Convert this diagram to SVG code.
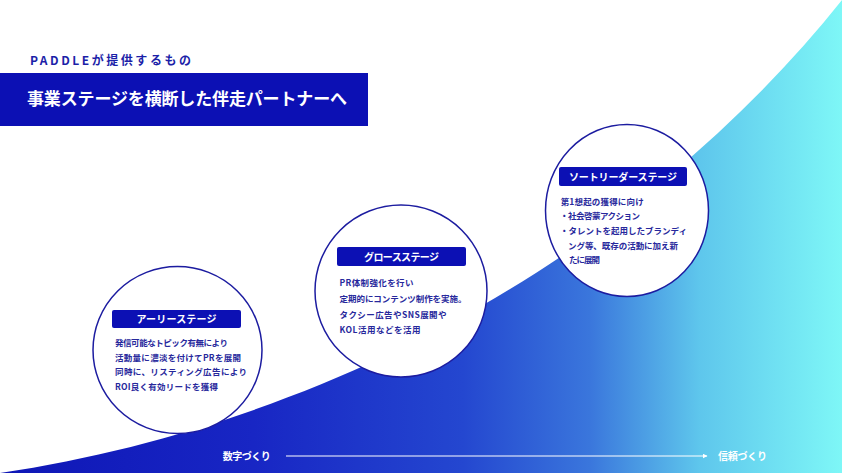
<svg xmlns="http://www.w3.org/2000/svg" width="842" height="473" viewBox="0 0 842 473">
<defs>
<linearGradient id="wave" gradientUnits="userSpaceOnUse" x1="0" y1="0" x2="842" y2="0">
<stop offset="0" stop-color="#0e16b6"/>
<stop offset="0.3" stop-color="#1826c4"/>
<stop offset="0.55" stop-color="#2447d0"/>
<stop offset="0.7" stop-color="#3a76dc"/>
<stop offset="0.83" stop-color="#5ec6ec"/>
<stop offset="1" stop-color="#7ef7f7"/>
</linearGradient>
<marker id="arr" viewBox="0 0 10 10" refX="9" refY="5" markerWidth="5" markerHeight="5" markerUnits="userSpaceOnUse" orient="auto">
<path d="M0,0 L10,5 L0,10 Z" fill="#ffffff"/>
</marker>
<style>
.jp{font-family:"Noto Sans CJK JP","Noto Sans",sans-serif;font-weight:700}
.ring{fill:#ffffff;stroke:#1c1ca0;stroke-width:1.5}
.tag{fill:#0c10b4}
.tagt{fill:#ffffff;font-size:10px;text-anchor:middle}
.body{fill:#27289c;font-size:8.5px}
.axis{fill:#ffffff;font-size:10px}
</style>
</defs>
<rect width="842" height="473" fill="#ffffff"/>
<path d="M0,473 C350,420 650,240 842,0 L842,473 Z" fill="url(#wave)"/>

<g id="header">
<text class="jp" x="30" y="65" font-size="12" fill="#1c1fa8" textLength="161" lengthAdjust="spacing">PADDLEが提供するもの</text>
<rect x="0" y="73" width="368" height="53" fill="#0c10b4"/>
<text class="jp" x="27" y="105" font-size="17" fill="#ffffff" textLength="320" lengthAdjust="spacing">事業ステージを横断した伴走パートナーへ</text>
</g>

<g id="early-stage">
<ellipse class="ring" cx="177.5" cy="350" rx="84.5" ry="83.5"/>
<rect class="tag" x="112" y="310" width="129" height="18" rx="2"/>
<text class="jp tagt" x="176.5" y="322.5" textLength="80" lengthAdjust="spacing">アーリーステージ</text>
<text class="jp body" x="115" y="346" textLength="113" lengthAdjust="spacing">発信可能なトピック有無により</text>
<text class="jp body" x="115" y="360.5" textLength="126" lengthAdjust="spacing">活動量に濃淡を付けてPRを展開</text>
<text class="jp body" x="115" y="375" textLength="132" lengthAdjust="spacing">同時に、リスティング広告により</text>
<text class="jp body" x="115" y="389.5" textLength="103" lengthAdjust="spacing">ROI良く有効リードを獲得</text>
</g>

<g id="growth-stage">
<ellipse class="ring" cx="401" cy="291" rx="86" ry="86"/>
<rect class="tag" x="337" y="247" width="129" height="19" rx="2"/>
<text class="jp tagt" x="401.5" y="260.5" textLength="75" lengthAdjust="spacing">グロースステージ</text>
<text class="jp body" x="339.5" y="286" textLength="74" lengthAdjust="spacing">PR体制強化を行い</text>
<text class="jp body" x="339.5" y="302" textLength="127" lengthAdjust="spacing">定期的にコンテンツ制作を実施。</text>
<text class="jp body" x="339.5" y="317.5" textLength="107" lengthAdjust="spacing">タクシー広告やSNS展開や</text>
<text class="jp body" x="339.5" y="333" textLength="81" lengthAdjust="spacing">KOL活用などを活用</text>
</g>

<g id="thought-leader-stage">
<ellipse class="ring" cx="627" cy="210.5" rx="81.5" ry="86"/>
<rect class="tag" x="559" y="167" width="128" height="19" rx="2"/>
<text class="jp tagt" x="623" y="180.5" textLength="108" lengthAdjust="spacing">ソートリーダーステージ</text>
<text class="jp body" x="560.7" y="204.5" textLength="83" lengthAdjust="spacing">第1想起の獲得に向け</text>
<text class="jp body" x="560" y="219" textLength="80" lengthAdjust="spacing">・社会啓蒙アクション</text>
<text class="jp body" x="560" y="233.8" textLength="127" lengthAdjust="spacing">・タレントを起用したブランディ</text>
<text class="jp body" x="568" y="248.6" textLength="110" lengthAdjust="spacing">ング等、既存の活動に加え新</text>
<text class="jp body" x="569" y="263.4" textLength="31" lengthAdjust="spacing">たに展開</text>
</g>

<g id="connectors">
<line x1="286" y1="456" x2="707" y2="456" stroke="#ffffff" stroke-width="1.2" marker-end="url(#arr)"/>
</g>

<g id="axis-labels">
<text class="jp axis" x="222.7" y="459.5" textLength="48" lengthAdjust="spacing">数字づくり</text>
<text class="jp axis" x="718" y="459.5" textLength="49" lengthAdjust="spacing">信頼づくり</text>
</g>
</svg>
